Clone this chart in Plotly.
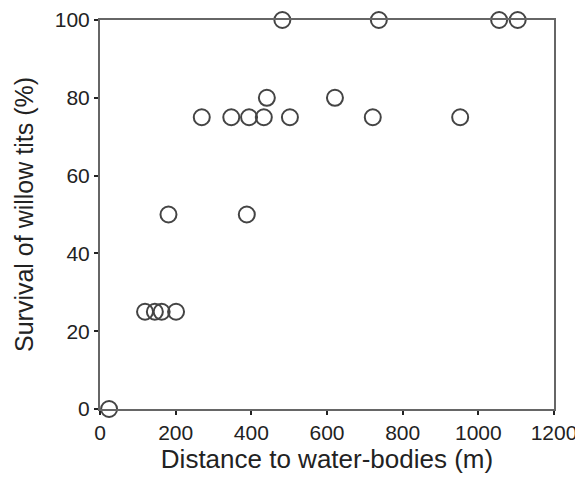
import plotly.graph_objects as go

distance_m = [24, 119, 145, 163, 201, 181, 388, 269, 347, 394, 433, 502, 721, 952, 441, 621, 482, 737, 1055, 1104]
survival_pct = [0, 25, 25, 25, 25, 50, 50, 75, 75, 75, 75, 75, 75, 75, 80, 80, 100, 100, 100, 100]

x_ticks = [0, 200, 400, 600, 800, 1000, 1200]
y_ticks = [0, 20, 40, 60, 80, 100]

font_family = "Liberation Sans, Arial, sans-serif"

fig = go.Figure(
    go.Scatter(
        x=distance_m,
        y=survival_pct,
        mode="markers",
        cliponaxis=False,
        marker=dict(symbol="circle-open", size=16, color="#444444",
                    line=dict(width=2, color="#444444")),
        showlegend=False,
    )
)

# the page body has an 8px margin, so the figure is sized to fit inside the window
fig.update_layout(
    width=575,
    height=476,
    margin=dict(l=92, r=29, t=12, b=75),
    paper_bgcolor="white",
    plot_bgcolor="white",
    font=dict(family=font_family, color="#222222", size=21),
)

fig.update_xaxes(
    range=[0, 1200],
    automargin=False,
    tickvals=x_ticks,
    ticktext=[str(v) for v in x_ticks],
    showgrid=False,
    zeroline=False,
    showline=True,
    linecolor="#666666",
    linewidth=2,
    mirror=True,
    ticks="outside",
    ticklen=4,
    tickwidth=2,
    tickcolor="#222222",
    tickfont=dict(size=21),
    title=dict(text="Distance to water-bodies (m)", font=dict(size=26), standoff=4),
)

fig.update_yaxes(
    range=[0, 100],
    automargin=False,
    tickvals=y_ticks,
    ticktext=[str(v) for v in y_ticks],
    showgrid=False,
    zeroline=False,
    showline=True,
    linecolor="#666666",
    linewidth=2,
    mirror=True,
    ticks="outside",
    ticklen=4,
    tickwidth=2,
    tickcolor="#222222",
    tickfont=dict(size=21),
    title=dict(text="Survival of willow tits (%)", font=dict(size=25), standoff=14),
)

fig.write_html("out.html")
